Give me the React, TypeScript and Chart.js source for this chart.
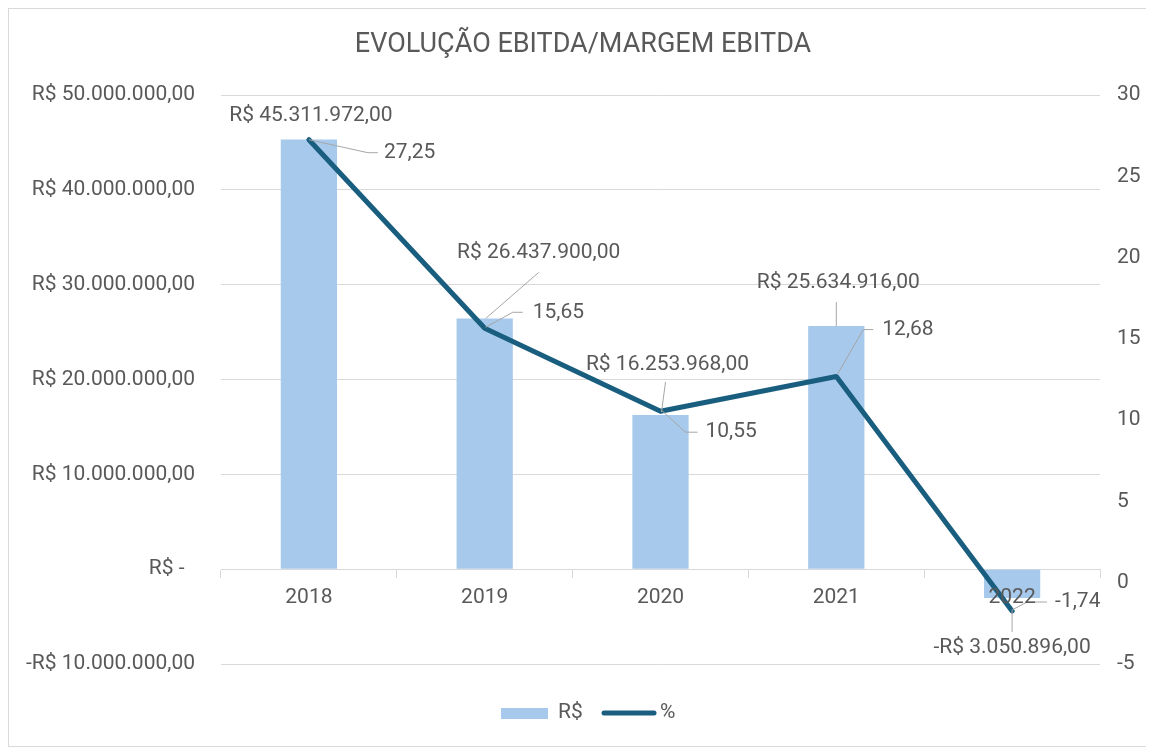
import React, { useEffect, useRef } from 'react';
import { Chart, registerables } from 'chart.js';

Chart.register(...registerables);

// ---------- data ----------
const years = ['2018', '2019', '2020', '2021', '2022'];
const ebitdaValues = [45311972, 26437900, 16253968, 25634916, -3050896];
const marginValues = [27.25, 15.65, 10.55, 12.68, -1.74];
const chartTitle = 'EVOLUÇÃO EBITDA/MARGEM EBITDA';
const barSeriesName = 'R$';
const lineSeriesName = '%';
const leftAxisMin = -10000000;
const leftAxisMax = 50000000;
const leftAxisStep = 10000000;
const rightAxisMin = -5;
const rightAxisMax = 30;
const rightAxisStep = 5;

// ---------- styles / layout ----------
const FONT = 'Roboto';
const TEXT = '#595959';
const GRID = '#D9D9D9';
const LEADER = '#A6A6A6';
const BAR_COLOR = '#A6C9EC';
const LINE_COLOR = '#1A5E7F';
const NUM_SIZE = 21;
const W = 1144;
const H = 737;
const AREA_LEFT = 212;
const AREA_RIGHT = 1091;
const AREA_TOP = 86;
const AREA_BOTTOM = 655;

// label placement (offsets from the mark anchor, in px)
const barLabelOffsets: [number, number][] = [[2, -24], [54, -66], [7, -50], [2, -43], [0, 50]];
const barLeaders: ([number, number][] | null)[] = [
  null,
  [[54, -46], [1, 0]],
  [[5, -33], [1, -3]],
  [[0, -24], [0, 0]],
  [[0, 34], [0, 12]],
];
const lineLabelOffsets: [number, number][] = [[75, 13], [48, -16], [45, 21], [46, -47], [43, -9]];
const lineLeaders: [number, number][][] = [
  [[0, 0], [59, 13], [69, 13]],
  [[1, -1], [28, -16], [38, -16]],
  [[1, -1], [25, 21], [37, 21]],
  [[1, -2], [27, -47], [37, -47]],
  [[0, -1], [15, -9], [35, -9]],
];

function groupThousands(n: number): string {
  return n.toString().replace(/\B(?=(\d{3})+(?!\d))/g, '.');
}

function fmtCurrency(v: number): string {
  if (v === 0) return 'R$ -  ';
  const [intPart, dec] = Math.abs(v).toFixed(2).split('.');
  const body = 'R$ ' + groupThousands(parseInt(intPart, 10)) + ',' + dec;
  return v < 0 ? '-' + body : body;
}

function fmtPct(v: number): string {
  return v.toFixed(2).replace('.', ',');
}

const decorPlugin = {
  id: 'decor',
  afterDatasetsDraw(chart: any) {
    const ctx: CanvasRenderingContext2D = chart.ctx;
    const barMeta = chart.getDatasetMeta(0);
    const lineMeta = chart.getDatasetMeta(1);
    ctx.save();
    ctx.strokeStyle = LEADER;
    ctx.lineWidth = 1;
    barMeta.data.forEach((el: any, i: number) => {
      const pts = barLeaders[i];
      if (!pts) return;
      ctx.beginPath();
      pts.forEach((p, k) => {
        const x = el.x + p[0];
        const y = el.y + p[1];
        if (k === 0) ctx.moveTo(x, y);
        else ctx.lineTo(x, y);
      });
      ctx.stroke();
    });
    lineMeta.data.forEach((el: any, i: number) => {
      const pts = lineLeaders[i];
      ctx.beginPath();
      pts.forEach((p, k) => {
        const x = el.x + p[0];
        const y = el.y + p[1];
        if (k === 0) ctx.moveTo(x, y);
        else ctx.lineTo(x, y);
      });
      ctx.stroke();
    });
    ctx.fillStyle = TEXT;
    ctx.font = `${NUM_SIZE}px ${FONT}`;
    ctx.textBaseline = 'middle';
    ctx.textAlign = 'center';
    barMeta.data.forEach((el: any, i: number) => {
      const o = barLabelOffsets[i];
      ctx.fillText(fmtCurrency(ebitdaValues[i]), el.x + o[0], el.y + o[1]);
    });
    ctx.textAlign = 'left';
    lineMeta.data.forEach((el: any, i: number) => {
      const o = lineLabelOffsets[i];
      ctx.fillText(fmtPct(marginValues[i]), el.x + o[0], el.y + o[1]);
    });
    ctx.restore();
  },
  afterDraw(chart: any) {
    const ctx: CanvasRenderingContext2D = chart.ctx;
    ctx.save();
    ctx.fillStyle = TEXT;
    ctx.font = `27px ${FONT}`;
    ctx.textAlign = 'center';
    ctx.textBaseline = 'middle';
    ctx.fillText(chartTitle, 574, 36);
    ctx.fillStyle = BAR_COLOR;
    ctx.fillRect(492, 699, 47, 11);
    ctx.fillStyle = TEXT;
    ctx.font = `${NUM_SIZE}px ${FONT}`;
    ctx.textAlign = 'left';
    ctx.fillText(barSeriesName, 549, 704);
    ctx.strokeStyle = LINE_COLOR;
    ctx.lineWidth = 5;
    ctx.lineCap = 'round';
    ctx.beginPath();
    ctx.moveTo(595, 704);
    ctx.lineTo(645, 704);
    ctx.stroke();
    ctx.fillText(lineSeriesName, 651, 704);
    ctx.restore();
  },
};

export default function App() {
  const ref = useRef<HTMLCanvasElement | null>(null);

  useEffect(() => {
    if (!ref.current) return;
    const tickFont = { family: FONT, size: NUM_SIZE };
    const chart = new Chart(ref.current, {
      type: 'bar',
      data: {
        labels: years,
        datasets: [
          {
            type: 'bar',
            label: barSeriesName,
            data: ebitdaValues,
            backgroundColor: BAR_COLOR,
            yAxisID: 'y',
            barPercentage: 0.32,
            categoryPercentage: 1,
            order: 2,
          },
          {
            type: 'line',
            label: lineSeriesName,
            data: marginValues,
            borderColor: LINE_COLOR,
            backgroundColor: LINE_COLOR,
            borderWidth: 5,
            pointRadius: 0,
            pointHoverRadius: 0,
            tension: 0,
            borderJoinStyle: 'round',
            borderCapStyle: 'round',
            yAxisID: 'y1',
            order: 1,
          } as any,
        ],
      },
      options: {
        responsive: false,
        animation: false,
        events: [],
        layout: { padding: { top: AREA_TOP, bottom: H - AREA_BOTTOM, left: 0, right: 0 } },
        plugins: {
          legend: { display: false },
          title: { display: false },
          tooltip: { enabled: false },
        },
        scales: {
          x: {
            type: 'category',
            position: { y: 0 } as any,
            offset: true,
            grid: {
              offset: true,
              drawOnChartArea: false,
              drawTicks: true,
              tickLength: 8,
              color: GRID,
            },
            border: { display: true, color: GRID },
            ticks: { z: 1, color: TEXT, font: tickFont, padding: 8, maxRotation: 0, autoSkip: false },
            afterFit: (s: any) => {
              s.height = 0;
            },
          },
          y: {
            position: 'left',
            min: leftAxisMin,
            max: leftAxisMax,
            ticks: {
              stepSize: leftAxisStep,
              callback: (v: any) => fmtCurrency(Number(v)),
              color: TEXT,
              font: tickFont,
              padding: 26,
            },
            grid: { color: GRID, drawTicks: false },
            border: { display: false },
            afterFit: (s: any) => {
              s.width = AREA_LEFT;
            },
          },
          y1: {
            position: 'right',
            min: rightAxisMin,
            max: rightAxisMax,
            ticks: {
              stepSize: rightAxisStep,
              color: TEXT,
              font: tickFont,
              padding: 17,
            },
            grid: { display: false, drawTicks: false },
            border: { display: false },
            afterFit: (s: any) => {
              s.width = W - AREA_RIGHT;
            },
          },
        },
      } as any,
      plugins: [decorPlugin],
    });
    return () => chart.destroy();
  }, []);

  return (
    <div
      style={{
        position: 'relative',
        width: W + 2,
        height: H + 2,
        border: `1px solid ${GRID}`,
        boxSizing: 'border-box',
        background: '#fff',
      }}
    >
      <canvas ref={ref} width={W} height={H} style={{ display: 'block', width: W, height: H }} />
    </div>
  );
}
